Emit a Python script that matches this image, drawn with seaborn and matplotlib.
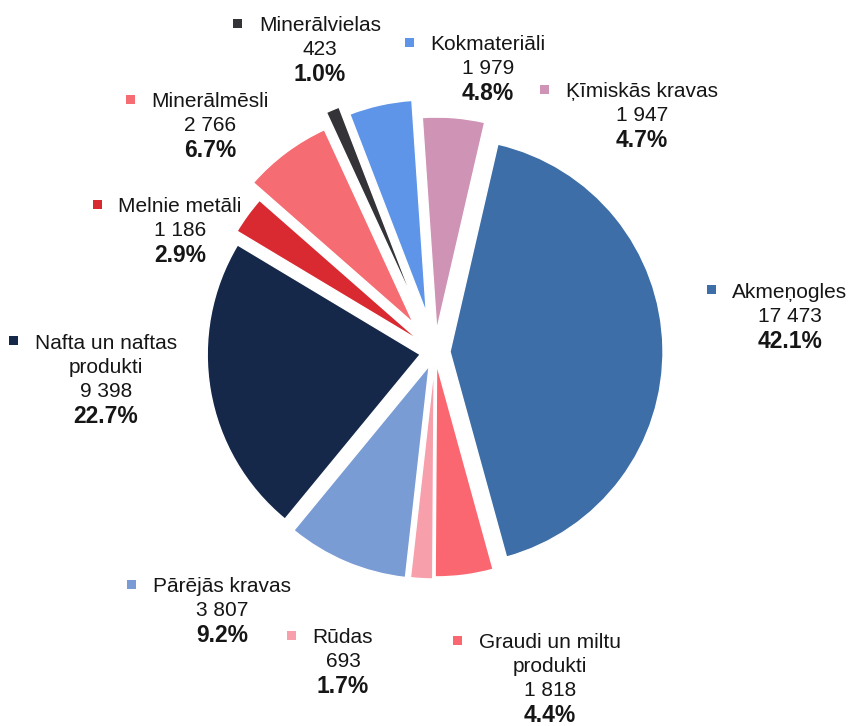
import matplotlib
matplotlib.use("Agg")
import matplotlib.pyplot as plt
from matplotlib.patches import Rectangle
import seaborn as sns

# cargo groups, thousand tonnes
categories = ["Akmeņogles", "Graudi un miltu produkti", "Rūdas", "Pārējās kravas",
              "Nafta un naftas produkti", "Melnie metāli", "Minerālmēsli",
              "Minerālvielas", "Kokmateriāli", "Ķīmiskās kravas"]
values = [17473, 1818, 693, 3807, 9398, 1186, 2766, 423, 1979, 1947]
label_lines = [["Akmeņogles"], ["Graudi un miltu", "produkti"], ["Rūdas"],
               ["Pārējās kravas"], ["Nafta un naftas", "produkti"], ["Melnie metāli"],
               ["Minerālmēsli"], ["Minerālvielas"], ["Kokmateriāli"], ["Ķīmiskās kravas"]]

colors = ["#3E6EA8", "#FB6770", "#F7A0AC", "#7A9CD4", "#16284A",
          "#DA2A31", "#F56C72", "#333338", "#5F95E8", "#CF93B5"]
explode = [15, 12, 14, 15, 15, 19, 36, 50, 40, 22]   # px
# label block: centre x, first baseline y (image pixels, y down)
label_pos = [(790, 298), (550, 648), (343, 643), (222, 592), (106, 349),
             (180, 212), (210, 107), (320, 31), (488, 50), (642, 97)]

W, H = 853, 726
INK = "#161616"

sns.set_theme(style="white")
plt.rcParams["font.family"] = ["Liberation Sans", "DejaVu Sans"]

fig = plt.figure(figsize=(W / 100, H / 100), dpi=100)
fig.patch.set_facecolor("white")
ax = fig.add_axes([0, 0, 1, 1])

ax.pie(values, colors=colors, explode=explode, startangle=77, counterclock=False,
       radius=213, center=(435, H - 352),
       wedgeprops=dict(edgecolor="white", linewidth=1))
ax.set_xlim(0, W)
ax.set_ylim(0, H)
ax.set_aspect("equal")
ax.axis("off")

total = sum(values)
renderer = fig.canvas.get_renderer()
for lines, v, c, (cx, by) in zip(label_lines, values, colors, label_pos):
    y = H - by
    first = None
    for line in lines:
        t = ax.text(cx, y, line, ha="center", va="baseline", fontsize=15, color=INK)
        if first is None:
            first = t
        y -= 24
    ax.text(cx, y, f"{v:,}".replace(",", " "), ha="center", va="baseline",
            fontsize=15, color=INK)
    y -= 26
    ax.text(cx, y, f"{100 * v / total:.1f}%", ha="center", va="baseline",
            fontsize=16.5, fontweight="bold", color=INK)
    bb = first.get_window_extent(renderer)
    ax.add_patch(Rectangle((bb.x0 - 21 - 4.5, H - by + 8 - 4.5), 9, 9,
                           color=c, lw=0))

fig.savefig("out.png", dpi=100)
